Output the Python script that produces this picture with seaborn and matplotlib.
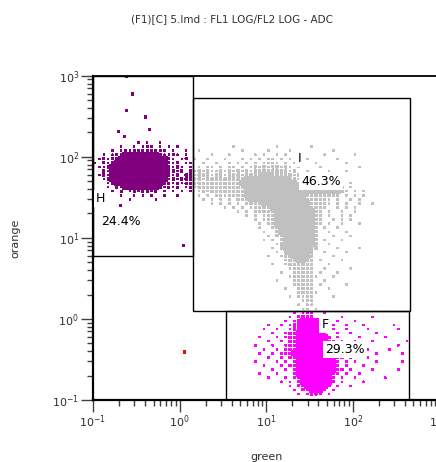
import numpy as np
import pandas as pd
import matplotlib
matplotlib.use("Agg")
import matplotlib.pyplot as plt
from matplotlib.patches import Rectangle
from matplotlib.ticker import LogLocator, NullFormatter
import seaborn as sns

TITLE = "(F1)[C] 5.lmd : FL1 LOG/FL2 LOG - ADC"
X_LABEL = "green"
Y_LABEL = "orange"

# Gates (linear fluorescence units)
gate_names = ["H", "I", "F"]
gate_x0 = [0.1, 1.44, 3.4]
gate_x1 = [1.44, 462.0, 450.0]
gate_y0 = [5.9, 1.25, 0.1]
gate_y1 = [1000.0, 527.0, 1.25]
gate_pct = ["24.4%", "46.3%", "29.3%"]
gate_colors = {"H": "#800080", "I": "#c0c0c0", "F": "#ff00ff", "none": "#ff0000"}

# Isolated events (green, orange)
single_x = [0.243, 0.284, 0.243, 0.402, 0.447, 0.196, 0.230, 0.207, 1.10, 1.14]
single_y = [980.0, 596.0, 368.0, 310.0, 215.0, 203.0, 176.0, 24.9, 8.04, 0.39]

# Event density maps on a log grid, 0.05 decade per cell.
# '#' = saturated, '+' = medium, '.' = single events
BIN = 0.05
X_ORIGIN = -0.975   # log10(green) of column 0
Y_ORIGIN = 2.375    # log10(orange) of row 0

h_col0, h_row0 = 0, 4
h_rows = [
    "          . .  .       ",
    "      .  . .+. . . .   ",
    "    . .+.+++++++. .  . ",
    "  . .+.########+..+. . ",
    " .+.++###########+. .+ ",
    ". +.+############+.+ . ",
    " ..+#############+.+. .",
    "  +.#############++.+ .",
    " .+.#############+.+ ++",
    "  .+#############.+.++.",
    "   .+###########++.+.+.",
    "   . +.########+.+.+ . ",
    "    . + .+.++.+ . . .  ",
    "      .  . . .  .  .   ",
    "        .     .        ",
]

i_col0, i_row0 = 22, 5
i_rows = [
    "          .         .       .",
    "  .         .     .    .         .",
    "     .   .     . .  . .  .     .      .",
    " .  .   .   . . . .. . .   .      .",
    ".  .  .  . . . . .... . .    .      .",
    ". . .. . .. . .+.+.++.+. .    .        .",
    "+.+.+..+.+.+.+.++++++++.+  .    .   .",
    "+.+++.++.+++.++++##+++++.+.   .    .",
    "+++.+++++++++##########++.. . .  . .",
    "++++++++++++#############+.. .  . .  .",
    "+.+++++++++++######################+ .",
    ". .+.++++++++######################+. . .",
    "  . . .+.++++##############+++++++. . . .",
    "   . . . . +++#############+++++. .  . .",
    "     . . . . .+++###########++++. . .  .  .",
    "        . . . .++++#########+++.  . . .",
    "           . . ..+++#########++ .  .  .",
    "             . . ..+#########+. .  . .",
    "               . ..+#########+.  . . .",
    "                . .+#########++ .  .   .",
    "                .  ++########+ .  .",
    "                 .  +########+  .   .",
    "                  . ++#######+   .   .",
    "                 . . +#######+ .   .",
    "                    .+#######+  .",
    "                   . +######++    .    .",
    "                    . +#####+  .    .",
    "                  .  .++####+    .",
    "                      .++##++ .    .",
    "                   .  .++++++   .",
    "                       .+++++  .     .",
    "                     .  +++++ .   .",
    "                       .+.+++.   .",
    "                    .   .++++  .",
    "                        .+++. .     .",
    "                      .  .+++   .",
    "                         .++..",
    "                       . ..+.    .",
    "                          .+.",
    "                         . ..",
    "                          .. .",
]

f_col0, f_row0 = 37, 46
f_rows = [
    "         . ...  .",
    "        . ++++ .    .      .",
    "       . .+#### .  .   .",
    "   .  . .++#####  .  .   .      .",
    "  .  .  .++#####+ .  .    .      .",
    "    .  .++######+  .  .     .",
    " .   . .++#######+ .    .     .",
    "   .  . ++#######++ .  .   .       .",
    ".   .  .++########+ .    .       .",
    "  .  . +++########++ .    .    .",
    " .  . .++#########+ .  .    .     .",
    "   .  . ++#########++ .   .",
    ".    . . +#########+ . .    .     .",
    "  .   . ++#########+ .   .",
    "    .  . +#########++ .    .     .",
    " .   .   +########++ .  .",
    "   .   . ++#######+ .  .      .",
    "      . . +#######+ .    .",
    "        . ++#####+ .  .",
    "         . ++###+ .",
    "          . .++. .",
]


def density_cells(rows, col0, row0):
    recs = []
    for j, row in enumerate(rows):
        for k, ch in enumerate(row):
            if ch != " ":
                lx = X_ORIGIN + BIN * (col0 + k)
                ly = Y_ORIGIN - BIN * (row0 + j)
                recs.append((10 ** lx, 10 ** ly, ch))
    return recs


def gate_of(x, y):
    for name, x0, x1, y0, y1 in zip(gate_names, gate_x0, gate_x1, gate_y0, gate_y1):
        if x0 <= x < x1 and y0 <= y < y1:
            return name
    return "none"


records = (density_cells(h_rows, h_col0, h_row0)
           + density_cells(i_rows, i_col0, i_row0)
           + density_cells(f_rows, f_col0, f_row0)
           + [(x, y, "+") for x, y in zip(single_x, single_y)])
events = pd.DataFrame(records, columns=["green", "orange", "level"])
events["gate"] = [gate_of(x, y) for x, y in zip(events["green"], events["orange"])]

sns.set_style("ticks")
plt.rcParams["font.family"] = ["DejaVu Sans"]

fig = plt.figure(figsize=(4.36, 4.62), dpi=100)
ax = fig.add_axes([93 / 436, 1 - 400 / 462, 346.4 / 436, 324.3 / 462])
ax.set_xscale("log")
ax.set_yscale("log")

sns.scatterplot(data=events, x="green", y="orange", hue="gate", palette=gate_colors,
                size="level", sizes={"#": 14.0, "+": 2.5, ".": 1.2},
                marker="s", linewidth=0, legend=False, ax=ax, zorder=2)
for coll in ax.collections:
    coll.set_snap(False)
    coll.set_antialiased(False)

ax.set_xlim(0.1, 1000)
ax.set_ylim(0.1, 1000)

for name, x0, x1, y0, y1 in zip(gate_names, gate_x0, gate_x1, gate_y0, gate_y1):
    ax.add_patch(Rectangle((x0, y0), x1 - x0, y1 - y0, fill=False,
                           edgecolor="black", linewidth=1.0, zorder=3))

label_font = dict(fontsize=9, color="black", zorder=4,
                  bbox=dict(facecolor="white", edgecolor="none", pad=1.5))
# gate name and percentage, in axes fractions
name_pos = {"H": (0.009, 0.611), "I": (0.590, 0.734), "F": (0.659, 0.222)}
pct_pos = {"H": (0.024, 0.540), "I": (0.602, 0.663), "F": (0.671, 0.145)}
for name, pct in zip(gate_names, gate_pct):
    ax.text(*name_pos[name], name, transform=ax.transAxes, ha="left", va="baseline", **label_font)
    ax.text(*pct_pos[name], pct, transform=ax.transAxes, ha="left", va="baseline", **label_font)

for axis in (ax.xaxis, ax.yaxis):
    axis.set_major_locator(LogLocator(base=10, numticks=10))
    axis.set_minor_locator(LogLocator(base=10, subs=np.arange(2, 10), numticks=10))
    axis.set_minor_formatter(NullFormatter())
ax.tick_params(which="major", direction="out", length=8.5, width=1.0, color="#404040",
               labelsize=8, labelcolor="#303030", pad=1.5)
ax.tick_params(which="minor", direction="out", length=4.5, width=1.0, color="#404040")

for side in ("left", "bottom"):
    ax.spines[side].set_linewidth(1.6)
    ax.spines[side].set_color("black")
ax.spines["top"].set_visible(True)
ax.spines["top"].set_linewidth(1.3)
ax.spines["top"].set_color("black")
ax.spines["right"].set_visible(False)

ax.set_xlabel(X_LABEL, fontsize=8, color="#303030")
ax.set_ylabel(Y_LABEL, fontsize=8, color="#303030")
ax.xaxis.set_label_coords(0.5, -0.16)
ax.yaxis.set_label_coords(-0.21, 0.5)

fig.text(232 / 436, 1 - 19 / 462, TITLE, ha="center", va="center", fontsize=7.5, color="#303030")

fig.savefig("out.png", dpi=100, facecolor="white")
